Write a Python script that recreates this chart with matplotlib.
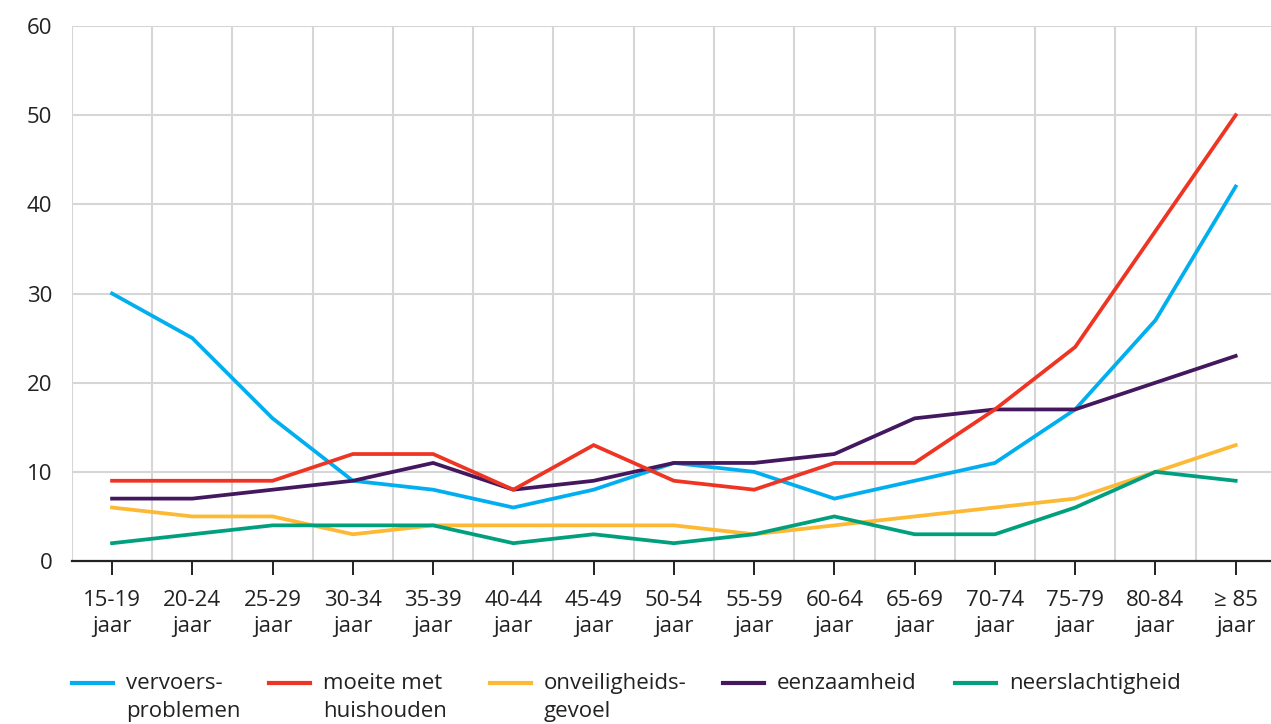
import matplotlib.pyplot as plt
from matplotlib.lines import Line2D
import numpy as np

# leeftijdsgroepen en percentages per probleem
leeftijd = ["15-19\njaar", "20-24\njaar", "25-29\njaar", "30-34\njaar", "35-39\njaar",
            "40-44\njaar", "45-49\njaar", "50-54\njaar", "55-59\njaar", "60-64\njaar",
            "65-69\njaar", "70-74\njaar", "75-79\njaar", "80-84\njaar", "≥ 85\njaar"]
vervoer = [30, 25, 16, 9, 8, 6, 8, 11, 10, 7, 9, 11, 17, 27, 42]
huishouden = [9, 9, 9, 12, 12, 8, 13, 9, 8, 11, 11, 17, 24, 37, 50]
onveilig = [6, 5, 5, 3, 4, 4, 4, 4, 3, 4, 5, 6, 7, 10, 13]
eenzaam = [7, 7, 8, 9, 11, 8, 9, 11, 11, 12, 16, 17, 17, 20, 23]
neerslachtig = [2, 3, 4, 4, 4, 2, 3, 2, 3, 5, 3, 3, 6, 10, 9]

labels = ["vervoers-\nproblemen", "moeite met\nhuishouden", "onveiligheids-\ngevoel",
          "eenzaamheid", "neerslachtigheid"]

BLUE = "#01AEEF"
RED = "#EE3524"
YELLOW = "#FDB933"
PURPLE = "#43185F"
GREEN = "#00A07F"
INK = "#222222"
GRID = "#D6D6D6"

plt.rcParams.update({
    "font.family": ["Open Sans", "DejaVu Sans"],
    "font.size": 16,
    "text.color": INK,
})

fig = plt.figure(figsize=(12.71, 7.24), dpi=100)
ax = fig.add_axes([0.0566, 0.2251, 0.9434, 0.739])

x = np.arange(len(leeftijd))
series = [vervoer, huishouden, onveilig, eenzaam, neerslachtig]
colors = [BLUE, RED, YELLOW, PURPLE, GREEN]
# tekenvolgorde zoals in het origineel
order = [2, 4, 0, 3, 1]
for i in order:
    ax.plot(x, series[i], color=colors[i], lw=2.7, solid_joinstyle="miter", zorder=3)

ax.set_xlim(-0.5, 14.44)
ax.set_ylim(0, 60)
ax.set_yticks(range(0, 61, 10))
ax.set_xticks(x)
ax.set_xticklabels(leeftijd, fontsize=16, linespacing=1.3)

for v in np.arange(-0.5, 14, 1):
    ax.axvline(v, color=GRID, lw=1.5, zorder=1)
for v in range(10, 61, 10):
    ax.axhline(v, color=GRID, lw=1.5, zorder=1)

for s in ["top", "right", "left"]:
    ax.spines[s].set_visible(False)
ax.spines["bottom"].set_color(INK)
ax.spines["bottom"].set_linewidth(1.6)
ax.spines["bottom"].set_zorder(4)

ax.tick_params(axis="x", length=10, width=1.4, color=INK, pad=11, labelcolor=INK)
ax.tick_params(axis="y", length=0, pad=14, labelsize=16, labelcolor=INK)

# legenda onderaan, handgemaakt zodat het lijntje bij de eerste regel staat
leg_x = [72, 269, 490, 723, 955]
W, H = 1271, 724
for lx, lab, col in zip(leg_x, labels, colors):
    y = 1 - 683 / H
    fig.add_artist(Line2D([lx / W, (lx + 41) / W], [y, y], color=col, lw=3,
                          transform=fig.transFigure))
    fig.text((lx + 54) / W, 1 - 673 / H, lab, ha="left", va="top", fontsize=16,
             linespacing=1.45)

fig.savefig("out.png", dpi=100)
